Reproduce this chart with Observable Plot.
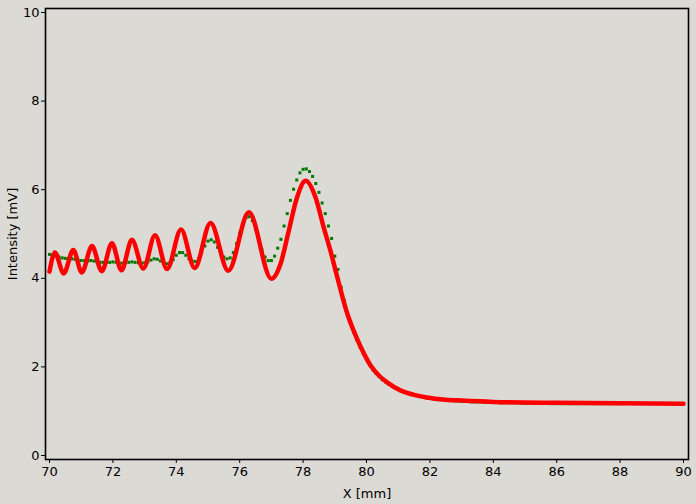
<!DOCTYPE html>
<html>
<head>
<meta charset="utf-8">
<script src="https://cdn.jsdelivr.net/npm/d3@7"></script>
<script src="https://cdn.jsdelivr.net/npm/@observablehq/plot@0.6"></script>
<style>
  html, body { margin: 0; padding: 0; background: #dcdad5; }
  #chart svg { display: block; }
</style>
</head>
<body>
<div id="chart"></div>
<script>
const redX = [70.0, 70.17, 70.45, 70.75, 71.02, 71.34, 71.65, 71.97, 72.27, 72.6, 72.96, 73.33, 73.71, 74.15, 74.58, 75.08, 75.64, 76.29, 77.0,
  77.29, 77.55, 77.81, 78.08, 78.39, 78.65, 78.86, 79.08, 79.39, 79.71, 79.92, 80.13, 80.4, 80.65, 81.07, 81.5, 81.9, 82.5, 83.0, 84.0, 86.0, 88.0, 90.0];
const redY = [4.15, 4.58, 4.11, 4.64, 4.13, 4.73, 4.16, 4.79, 4.18, 4.87, 4.22, 4.97, 4.21, 5.10, 4.23, 5.25, 4.17, 5.49, 3.99,
  4.33, 5.08, 5.83, 6.20, 5.83, 5.15, 4.63, 4.02, 3.21, 2.62, 2.30, 2.03, 1.80, 1.65, 1.47, 1.37, 1.31, 1.26, 1.24, 1.21, 1.19, 1.18, 1.17];

// Green (reference) samples every 0.1 mm from 70.0 to 88.0
const greenStart = 70.0;
const greenStep = 0.1;
const greenY = [
  4.54, 4.52, 4.50, 4.48, 4.46, 4.45, 4.44, 4.44, 4.43, 4.41,
  4.40, 4.40, 4.39, 4.40, 4.39, 4.37, 4.36, 4.36, 4.36, 4.36,
  4.37, 4.36, 4.35, 4.34, 4.35, 4.36, 4.37, 4.36, 4.35, 4.34,
  4.35, 4.37, 4.41, 4.44, 4.43, 4.39, 4.35, 4.33, 4.35, 4.42,
  4.52, 4.58, 4.58, 4.52, 4.44, 4.39, 4.38, 4.44, 4.58, 4.73,
  4.84, 4.87, 4.82, 4.70, 4.57, 4.48, 4.44, 4.46, 4.58, 4.78,
  5.02, 5.24, 5.37, 5.39, 5.30, 5.10, 4.86, 4.64, 4.48, 4.40,
  4.40, 4.50, 4.68, 4.88, 5.18, 5.46, 5.76, 6.01, 6.22, 6.38,
  6.46, 6.47, 6.41, 6.30, 6.14, 5.94, 5.70, 5.46, 5.18, 4.90,
  4.50, 4.20, 3.80, 3.50, 3.20, 2.98, 2.78, 2.60, 2.44, 2.30,
  2.17, 2.05, 1.94, 1.85, 1.78, 1.71, 1.66, 1.61, 1.57, 1.53,
  1.49, 1.46, 1.43, 1.41, 1.39, 1.37, 1.35, 1.33, 1.31, 1.30,
  1.29, 1.28, 1.27, 1.26, 1.26, 1.25, 1.24, 1.24, 1.23, 1.23,
  1.22, 1.22, 1.22, 1.21, 1.21, 1.21, 1.21, 1.20, 1.20, 1.20,
  1.20, 1.20, 1.19, 1.19, 1.19, 1.19, 1.19, 1.19, 1.19, 1.18,
  1.18, 1.18, 1.18, 1.18, 1.18, 1.18, 1.18, 1.18, 1.17, 1.17,
  1.17, 1.17, 1.17, 1.17, 1.17, 1.17, 1.17, 1.17, 1.17, 1.17,
  1.17, 1.17, 1.17, 1.17, 1.17, 1.17, 1.17, 1.17, 1.17, 1.17,
  1.17
];

const xTicks = [70, 72, 74, 76, 78, 80, 82, 84, 86, 88, 90];
const yTicks = [0, 2, 4, 6, 8, 10];

const red = redX.map((x, i) => ({x, y: redY[i]}));
const green = greenY.map((y, i) => ({x: +(greenStart + i * greenStep).toFixed(2), y}));

const chart = Plot.plot({
  width: 696,
  height: 504,
  marginLeft: 45,
  marginRight: 8,
  marginTop: 8,
  marginBottom: 45,
  insetLeft: 4,
  insetRight: 5,
  insetTop: 4,
  insetBottom: 4,
  style: {background: "#dcdad5", fontFamily: "DejaVu Sans", color: "#000"},
  x: {domain: [70, 90]},
  y: {domain: [0, 10]},
  marks: [
    Plot.axisX({ticks: xTicks, tickSize: 4, tickPadding: 3, fontSize: 13, label: "X [mm]", labelAnchor: "center", labelArrow: "none", labelOffset: 38}),
    Plot.axisY({ticks: yTicks, tickSize: 4, tickPadding: 2, fontSize: 13, label: "Intensity [mV]", labelAnchor: "center", labelArrow: "none", labelOffset: 38}),
    Plot.dot(green, {x: "x", y: "y", symbol: "square", r: 1.7, fill: "#007a00", stroke: "none"}),
    Plot.line(red, {x: "x", y: "y", stroke: "#ff0000", strokeWidth: 4.5, curve: "monotone-x"}),
    Plot.frame({stroke: "#000", strokeWidth: 1.6})
  ]
});
document.getElementById("chart").append(chart);
</script>
</body>
</html>
